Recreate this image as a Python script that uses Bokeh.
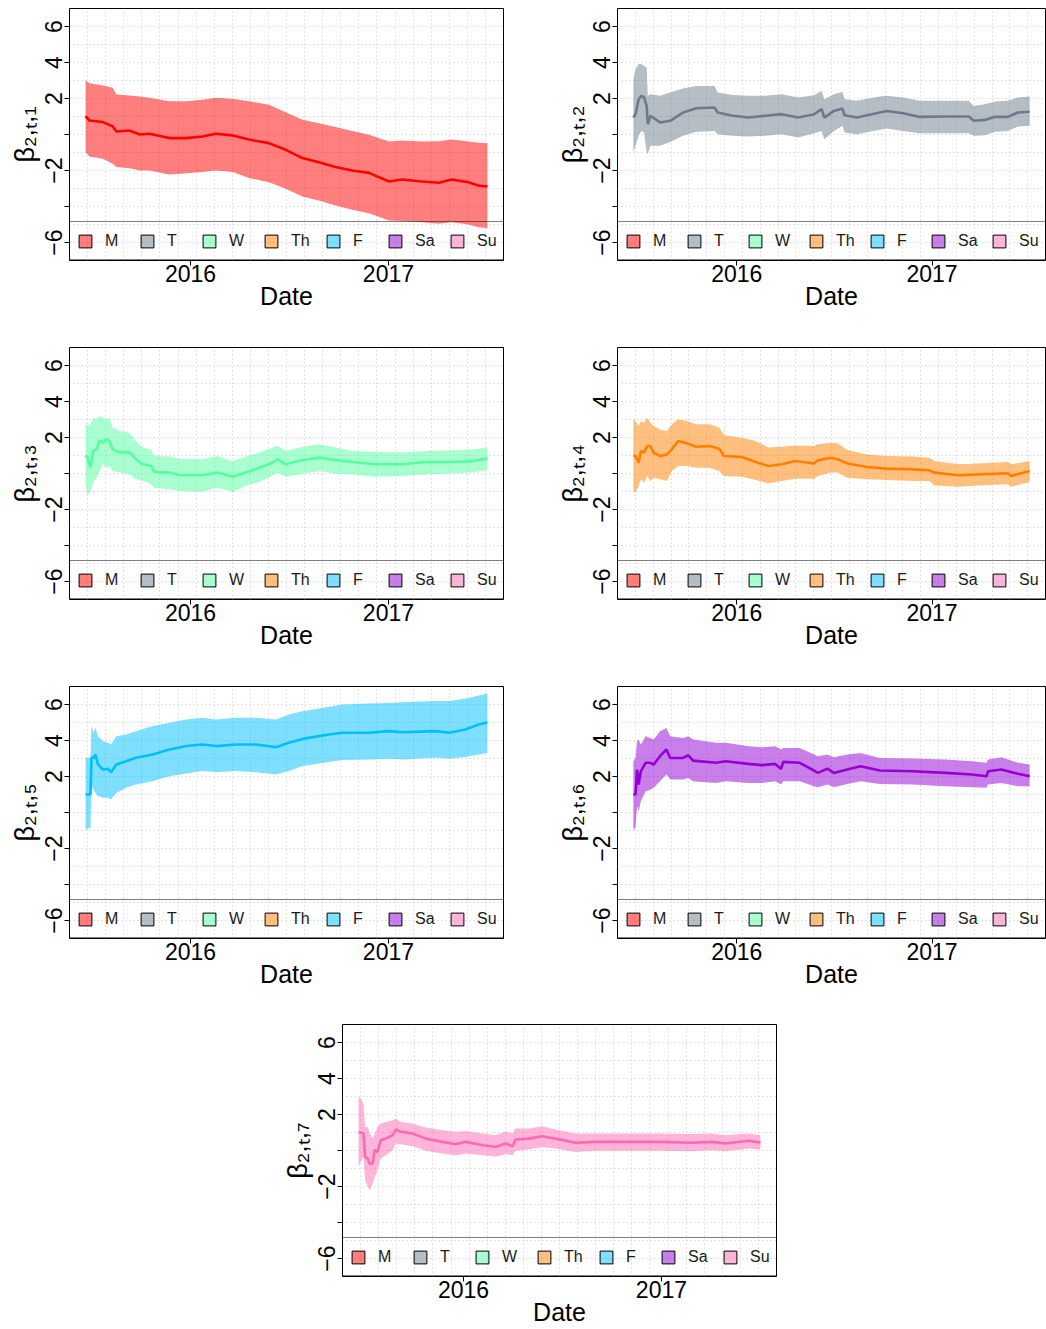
import pandas as pd
from bokeh.plotting import figure
from bokeh.models import (Range1d, FixedTicker, Grid, Legend, LegendItem,
                          DatetimeTickFormatter, Spacer)
from bokeh.layouts import column, row
from bokeh.embed import file_html
from bokeh.resources import INLINE

START = "2015-06-21"

weekdays = ["M", "T", "W", "Th", "F", "Sa", "Su"]
line_colors = ["#FF0000", "#6C7B8B", "#54FF9F", "#FF7F00", "#00BFFF", "#9400D3", "#FF69B4"]
y_labels = ["β₂,ₜ,₁", "β₂,ₜ,₂", "β₂,ₜ,₃", "β₂,ₜ,₄", "β₂,ₜ,₅", "β₂,ₜ,₆", "β₂,ₜ,₇"]
year_ticks = ["2016-01-01", "2017-01-01"]

# ---- panel 1 (M) ----
days_1 = [0, 7, 32, 50, 57, 81, 100, 118, 155, 186, 216, 241, 272, 302, 339, 370, 401, 431,
          462, 493, 524, 561, 585, 622, 653, 677, 708, 726, 743]
upper_1 = [3.00, 2.85, 2.72, 2.60, 2.22, 2.17, 2.11, 2.04, 1.85, 1.85, 1.93, 2.04, 1.98, 1.85,
           1.65, 1.24, 0.82, 0.63, 0.41, 0.19, -0.02, -0.39, -0.33, -0.39, -0.37, -0.28, -0.39,
           -0.46, -0.48]
mean_1 = [1.02, 0.78, 0.69, 0.45, 0.17, 0.22, 0.0, 0.04, -0.20, -0.20, -0.11, 0.04, -0.05, -0.28,
          -0.48, -0.85, -1.31, -1.54, -1.81, -2.0, -2.13, -2.61, -2.5, -2.61, -2.68, -2.5, -2.65,
          -2.83, -2.89]
lower_1 = [-0.98, -1.22, -1.35, -1.63, -1.81, -1.87, -2.0, -2.0, -2.22, -2.15, -2.09, -2.0, -2.09,
           -2.41, -2.65, -3.02, -3.44, -3.67, -3.94, -4.18, -4.37, -4.78, -4.81, -4.87, -4.96,
           -4.87, -5.0, -5.15, -5.19]

# ---- panel 2 (T) ----
days_2 = [0, 4, 10, 15, 20, 25, 27, 32, 50, 69, 93, 118, 152, 158, 186, 216, 247, 278, 309, 339,
          353, 358, 376, 392, 396, 419, 462, 475, 506, 536, 585, 629, 638, 659, 678, 702, 721, 743]
upper_2 = [3.07, 3.63, 3.91, 3.91, 3.81, 3.72, 2.15, 2.24, 2.15, 2.33, 2.56, 2.70, 2.70, 2.33,
           2.20, 2.15, 2.15, 2.24, 2.06, 2.18, 2.43, 1.96, 2.24, 2.37, 1.96, 1.87, 2.11, 2.15,
           2.06, 1.87, 1.87, 1.87, 1.59, 1.68, 1.83, 1.87, 2.06, 2.11]
mean_2 = [0.94, 1.13, 1.96, 2.15, 2.06, 1.59, 0.57, 1.04, 0.67, 0.76, 1.22, 1.46, 1.50, 1.22,
          1.04, 0.94, 1.04, 1.13, 0.94, 1.13, 1.41, 0.94, 1.31, 1.44, 1.07, 0.94, 1.22, 1.31,
          1.18, 0.98, 1.0, 1.0, 0.76, 0.81, 0.98, 0.98, 1.22, 1.26]
lower_2 = [-1.0, -0.63, -0.07, 0.2, 0.11, -1.0, -1.09, -0.63, -0.63, -0.41, -0.07, 0.15, 0.2,
           0.02, -0.07, -0.11, -0.07, 0.02, -0.17, 0.07, 0.2, -0.26, 0.2, 0.48, 0.11, 0.02, 0.26,
           0.33, 0.2, 0.07, 0.07, 0.07, -0.07, -0.04, 0.15, 0.2, 0.44, 0.48]

# ---- panel 3 (W) ----
days_3 = [0, 4, 9, 14, 20, 26, 32, 38, 44, 50, 63, 81, 93, 106, 121, 127, 155, 173, 216, 244,
          272, 296, 321, 339, 355, 370, 401, 432, 462, 493, 536, 585, 629, 678, 715, 743]
upper_3 = [2.92, 2.64, 2.73, 3.10, 3.01, 3.19, 3.10, 3.01, 3.10, 2.55, 2.36, 2.27, 1.81, 1.44,
           1.34, 0.97, 0.94, 0.82, 0.79, 0.97, 0.69, 0.94, 1.16, 1.38, 1.53, 1.25, 1.49, 1.62,
           1.44, 1.25, 1.19, 1.16, 1.25, 1.29, 1.34, 1.44]
mean_3 = [1.01, 0.88, 0.32, 1.25, 1.34, 1.84, 1.71, 1.90, 1.81, 1.34, 1.16, 1.19, 0.79, 0.51,
          0.42, 0.08, 0.05, -0.08, -0.10, 0.05, -0.18, 0.05, 0.32, 0.51, 0.79, 0.51, 0.75, 0.88,
          0.75, 0.64, 0.51, 0.51, 0.64, 0.64, 0.69, 0.84]
lower_3 = [-0.6, -1.25, -0.97, -0.51, -0.23, 0.14, 0.51, 0.32, 0.42, 0.14, 0.05, -0.05, -0.32,
           -0.42, -0.6, -0.79, -0.88, -0.97, -1.01, -0.79, -1.03, -0.69, -0.47, -0.23, 0.05,
           -0.18, -0.01, 0.14, -0.01, -0.05, -0.18, -0.14, -0.05, 0.01, 0.05, 0.19]

# ---- panel 4 (Th) ----
days_4 = [0, 4, 10, 14, 20, 26, 32, 38, 50, 63, 72, 84, 100, 118, 143, 161, 170, 204, 229, 253,
          278, 303, 339, 346, 370, 383, 401, 438, 475, 524, 555, 564, 610, 647, 702, 708, 743]
upper_4 = [3.01, 2.92, 2.64, 2.92, 2.82, 3.10, 2.82, 2.64, 2.45, 2.36, 2.73, 3.01, 2.92, 2.73,
           2.73, 2.55, 2.12, 1.99, 1.81, 1.44, 1.49, 1.56, 1.53, 1.62, 1.71, 1.68, 1.31, 1.06,
           0.97, 0.94, 0.88, 0.69, 0.51, 0.56, 0.64, 0.51, 0.69]
mean_4 = [1.01, 0.97, 0.60, 1.25, 1.16, 1.53, 1.53, 1.16, 0.97, 1.06, 1.34, 1.81, 1.68, 1.49,
          1.53, 1.38, 0.97, 0.92, 0.64, 0.42, 0.51, 0.69, 0.56, 0.73, 0.88, 0.79, 0.56, 0.36,
          0.27, 0.23, 0.18, 0.05, -0.10, -0.05, 0.01, -0.14, 0.14]
lower_4 = [-0.97, -1.06, -0.69, -0.32, -0.51, -0.14, -0.42, -0.23, -0.32, -0.42, 0.14, 0.42,
           0.42, 0.32, 0.32, 0.14, -0.14, -0.18, -0.36, -0.55, -0.42, -0.29, -0.29, -0.14, 0.05,
           0.05, -0.23, -0.32, -0.36, -0.42, -0.42, -0.66, -0.73, -0.66, -0.60, -0.73, -0.47]

# ---- panel 5 (F) ----
days_5 = [0, 9, 11, 15, 18, 23, 32, 41, 47, 57, 75, 93, 124, 155, 186, 216, 241, 278, 315, 352,
          376, 401, 450, 475, 524, 561, 585, 647, 672, 702, 727, 743]
upper_5 = [3.04, 3.04, 4.80, 4.43, 4.71, 4.24, 3.96, 3.87, 3.78, 4.24, 4.33, 4.52, 4.80, 4.98,
           5.17, 5.26, 5.17, 5.26, 5.26, 5.17, 5.45, 5.63, 5.87, 6.0, 6.06, 6.09, 6.13, 6.19,
           6.19, 6.32, 6.50, 6.61]
mean_5 = [1.0, 1.0, 3.04, 3.04, 3.22, 2.67, 2.39, 2.43, 2.24, 2.67, 2.85, 3.04, 3.22, 3.50,
          3.69, 3.78, 3.69, 3.78, 3.78, 3.63, 3.87, 4.09, 4.33, 4.43, 4.43, 4.52, 4.46, 4.52,
          4.43, 4.61, 4.89, 5.02]
lower_5 = [-0.94, -0.85, 1.46, 1.28, 1.09, 0.91, 0.82, 0.82, 0.72, 1.09, 1.37, 1.56, 1.74, 2.02,
           2.17, 2.30, 2.24, 2.30, 2.24, 2.11, 2.30, 2.58, 2.80, 2.91, 2.95, 2.98, 2.95, 3.04,
           2.98, 3.09, 3.22, 3.32]

# ---- panel 6 (Sa) ----
days_6 = [0, 4, 7, 10, 14, 23, 32, 38, 50, 62, 69, 93, 103, 112, 155, 173, 216, 241, 266, 277,
          281, 312, 339, 346, 364, 376, 401, 426, 462, 524, 585, 635, 662, 665, 690, 721, 743]
upper_6 = [2.85, 3.03, 3.96, 4.05, 3.77, 4.24, 4.14, 4.05, 4.51, 4.70, 4.24, 4.14, 4.24, 4.05,
           3.87, 3.87, 3.68, 3.63, 3.68, 3.50, 3.59, 3.59, 3.22, 3.13, 3.22, 3.07, 3.22, 3.31,
           3.03, 3.0, 2.94, 2.85, 2.76, 2.94, 3.07, 2.76, 2.67]
mean_6 = [1.0, 1.0, 2.38, 1.55, 2.29, 2.76, 2.76, 2.66, 3.13, 3.50, 3.03, 3.03, 3.18, 2.88, 2.76,
          2.85, 2.70, 2.63, 2.70, 2.42, 2.81, 2.76, 2.33, 2.20, 2.44, 2.20, 2.39, 2.57, 2.33,
          2.29, 2.20, 2.11, 2.01, 2.29, 2.39, 2.15, 2.01]
lower_6 = [-0.95, -0.86, 0.35, 0.07, 0.63, 1.18, 1.27, 1.37, 1.74, 2.11, 1.83, 1.83, 1.92, 1.74,
           1.64, 1.74, 1.64, 1.64, 1.74, 1.55, 1.74, 1.74, 1.46, 1.40, 1.55, 1.40, 1.59, 1.74,
           1.59, 1.55, 1.46, 1.40, 1.37, 1.55, 1.64, 1.46, 1.46]

# ---- panel 7 (Su) ----
days_7 = [0, 4, 9, 12, 17, 21, 26, 30, 35, 41, 50, 63, 69, 78, 100, 124, 155, 180, 198, 229, 253,
          272, 285, 290, 315, 339, 364, 401, 438, 493, 555, 616, 653, 678, 721, 743]
upper_7 = [2.98, 2.89, 2.61, 1.31, 1.31, 0.94, 0.66, 0.94, 1.31, 1.50, 1.59, 1.68, 1.78, 1.59,
           1.50, 1.28, 1.13, 1.04, 1.09, 0.94, 0.85, 1.04, 0.94, 1.22, 1.22, 1.35, 1.16, 0.94,
           0.94, 0.94, 0.94, 0.91, 0.94, 0.85, 0.94, 0.85]
mean_7 = [1.0, 1.0, 0.94, -0.35, -0.45, -0.76, -0.72, 0.04, -0.08, 0.57, 0.66, 0.85, 1.16, 1.04,
          0.94, 0.66, 0.48, 0.35, 0.48, 0.29, 0.20, 0.39, 0.24, 0.61, 0.66, 0.79, 0.66, 0.43,
          0.48, 0.48, 0.48, 0.43, 0.48, 0.39, 0.54, 0.44]
lower_7 = [-0.91, -0.63, -0.35, -1.65, -2.02, -2.21, -1.84, -1.46, -1.09, -0.45, -0.26, 0.02,
           0.39, 0.35, 0.24, -0.02, -0.17, -0.28, -0.17, -0.26, -0.35, -0.21, -0.26, -0.02, 0.05,
           0.20, 0.11, -0.08, -0.02, -0.02, -0.02, -0.04, 0.02, -0.04, 0.11, 0.05]

series = [
    (days_1, upper_1, mean_1, lower_1),
    (days_2, upper_2, mean_2, lower_2),
    (days_3, upper_3, mean_3, lower_3),
    (days_4, upper_4, mean_4, lower_4),
    (days_5, upper_5, mean_5, lower_5),
    (days_6, upper_6, mean_6, lower_6),
    (days_7, upper_7, mean_7, lower_7),
]

FONT = "Liberation Sans"
NAN = float("nan")


def make_panel(k, width, height, b_left, b_right, b_top, b_bottom, leg_spacing=14):
    days, up, mid, lo = series[k]
    x = pd.Timestamp(START) + pd.to_timedelta(days, unit="D")
    xmin, xmax = x.min(), x.max()
    span = xmax - xmin
    x0 = xmin - 0.04 * span
    x1 = xmax + 0.04 * span
    x0ms, x1ms = x0.value / 1e6, x1.value / 1e6

    p = figure(width=width, height=height, x_axis_type="datetime",
               x_range=Range1d(x0ms, x1ms), y_range=Range1d(-7, 7),
               output_backend="svg", toolbar_location=None,
               min_border_left=b_left, min_border_right=b_right,
               min_border_top=b_top, min_border_bottom=b_bottom)
    p.background_fill_color = "white"
    p.border_fill_color = "white"
    p.outline_line_color = "black"
    p.outline_line_width = 1

    # dotted grid
    p.xgrid.visible = False
    p.ygrid.ticker = FixedTicker(ticks=list(range(-6, 7)))
    p.ygrid.grid_line_color = "#C4C4C4"
    p.ygrid.grid_line_dash = "1 3"
    vt = [x0ms + i * (x1ms - x0ms) / 24 for i in range(1, 24)]
    p.add_layout(Grid(dimension=0, ticker=FixedTicker(ticks=vt),
                      grid_line_color="#C4C4C4", grid_line_dash="1 3"), "center")

    col = line_colors[k]
    p.varea(x=x, y1=lo, y2=up, fill_color=col, fill_alpha=0.5)
    p.line(x=x, y=mid, line_color=col, line_width=2.6)

    # axes
    p.yaxis.ticker = FixedTicker(ticks=[-6, -4, -2, 0, 2, 4, 6])
    p.yaxis.major_label_overrides = {-6: "−6", -4: "", -2: "−2", 0: "", 2: "2", 4: "4", 6: "6"}
    p.yaxis.major_label_orientation = "vertical"
    p.yaxis.major_label_standoff = 3
    p.yaxis.axis_label = y_labels[k]
    p.yaxis.axis_label_standoff = 2
    p.yaxis.axis_label_text_font_size = "27px"

    yrs = [pd.Timestamp(t).value / 1e6 for t in year_ticks]
    p.xaxis.ticker = FixedTicker(ticks=yrs)
    p.xaxis.formatter = DatetimeTickFormatter(years="%Y", months="%Y", days="%Y", hours="%Y")
    p.xaxis.axis_label = "Date"
    p.xaxis.major_label_standoff = -1
    p.xaxis.axis_label_standoff = -3
    p.xaxis.axis_label_text_font_size = "25px"

    for ax in (p.xaxis[0], p.yaxis[0]):
        ax.axis_line_color = None
        ax.major_tick_out = 5
        ax.major_tick_in = 0
        ax.minor_tick_out = 0
        ax.minor_tick_in = 0
        ax.major_tick_line_color = "black"
        ax.major_label_text_font = FONT
        ax.major_label_text_font_size = "23px"
        ax.major_label_text_color = "black"
        ax.axis_label_text_font = FONT
        ax.axis_label_text_font_style = "normal"
        ax.axis_label_text_color = "black"

    # legend of the seven weekdays
    items = []
    for name, c in zip(weekdays, line_colors):
        r = p.quad(left=[NAN], right=[NAN], top=[NAN], bottom=[NAN], fill_color=c,
                   fill_alpha=0.5, line_color="black", line_width=1)
        items.append(LegendItem(label=name, renderers=[r]))
    legend = Legend(items=items, orientation="horizontal", location="bottom_left",
                    margin=0, padding=7, spacing=leg_spacing, glyph_width=16, glyph_height=16,
                    label_standoff=12, label_width=20, label_height=23,
                    label_text_font=FONT, label_text_font_size="16px",
                    label_text_color="#1A1A1A",
                    border_line_color="black", border_line_width=1,
                    background_fill_alpha=0)
    p.add_layout(legend, "center")
    return p


# left column: frame x 69..503 ; right column: frame x 615..1045
LW, RW = 554, 492
p1 = make_panel(0, LW, 347, 69, 51, 8, 87)
p2 = make_panel(1, RW, 347, 61, 1, 8, 87, leg_spacing=13)
p3 = make_panel(2, LW, 339, 69, 51, 0, 87)
p4 = make_panel(3, RW, 339, 61, 1, 0, 87, leg_spacing=13)
p5 = make_panel(4, LW, 338, 69, 51, 0, 86)
p6 = make_panel(5, RW, 338, 61, 1, 0, 86, leg_spacing=13)
p7 = make_panel(6, 554, 305, 69, 51, 0, 53)

layout = column(row(p1, p2), row(p3, p4), row(p5, p6),
                row(Spacer(width=273, height=305), p7))

open("out.html", "w").write(file_html(layout, INLINE))
